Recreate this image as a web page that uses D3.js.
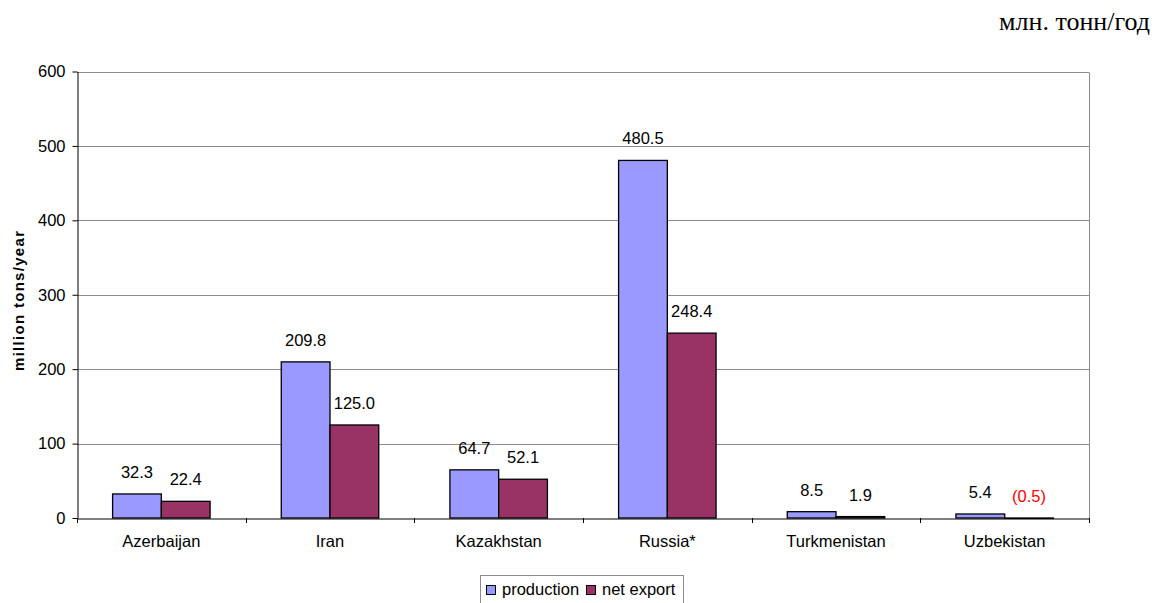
<!DOCTYPE html>
<html><head><meta charset="utf-8">
<script src="https://cdn.jsdelivr.net/npm/d3@7"></script>
<style>
html,body{margin:0;padding:0;background:#fff;}
svg{display:block;}
text{font-family:"Liberation Sans",Arial,sans-serif;}
</style></head>
<body>
<svg id="chart" width="1155" height="603"></svg>
<script>
const categories = ["Azerbaijan","Iran","Kazakhstan","Russia*","Turkmenistan","Uzbekistan"];
const seriesNames = ["production","net export"];
const production = [32.3, 209.8, 64.7, 480.5, 8.5, 5.4];
const netExport = [22.4, 125.0, 52.1, 248.4, 1.9, -0.5];
const yTicks = [0,100,200,300,400,500,600];
const colors = ["#9999FF","#993366"];
const unitNote = "млн. тонн/год";
const yLabel = "million tons/year";

(function(){
const svg = d3.select("#chart");
const pLeft = 77, pRight = 1089, pTop = 71.5, pBottom = 518;
const FS = 16.5;

const x0 = d3.scaleBand().domain(categories).range([pLeft, pRight]).padding(0);
const x1 = d3.scaleBand().domain(seriesNames).range([0, x0.bandwidth()]).paddingInner(0).paddingOuter(0.73);
const y = d3.scaleLinear().domain([0,600]).range([pBottom, pTop]);
const color = d3.scaleOrdinal().domain(seriesNames).range(colors);

// unit note
svg.append("text").attr("x",1150).attr("y",29.5).attr("text-anchor","end")
  .style("font-family",'"Liberation Serif","Times New Roman",serif').style("font-size","26px")
  .attr("fill","#000").text(unitNote);

// grid
svg.append("g").selectAll("line").data(yTicks.filter(d=>d>0)).join("line")
  .attr("x1",pLeft).attr("x2",pRight).attr("y1",d=>Math.round(y(d))+0.5).attr("y2",d=>Math.round(y(d))+0.5)
  .attr("stroke","#8c8c8c").attr("stroke-width",1);
// right border
svg.append("line").attr("x1",pRight+0.5).attr("x2",pRight+0.5).attr("y1",Math.round(y(600))+0.5).attr("y2",pBottom)
  .attr("stroke","#8c8c8c");

// bars
const data = categories.map((c,i)=>({cat:c, vals:[{s:seriesNames[0],v:production[i]},{s:seriesNames[1],v:netExport[i]}]}));
const groups = svg.append("g").selectAll("g").data(data).join("g")
  .attr("transform",d=>`translate(${x0(d.cat)},0)`);
groups.selectAll("rect").data(d=>d.vals).join("rect")
  .attr("x",d=>x1(d.s)).attr("width",x1.bandwidth())
  .attr("y",d=>y(Math.max(0,d.v))).attr("height",d=>Math.abs(y(d.v)-y(0)))
  .attr("fill",d=>color(d.s)).attr("stroke","#000").attr("stroke-width",1.3);
groups.selectAll("text").data(d=>d.vals).join("text")
  .attr("x",d=>x1(d.s)+x1.bandwidth()/2).attr("y",d=>y(Math.max(0,d.v))-16)
  .attr("text-anchor","middle").style("font-size",FS+"px")
  .attr("fill",d=>d.v<0?"#FF0000":"#000")
  .text(d=>d.v<0?`(${Math.abs(d.v).toFixed(1)})`:d.v.toFixed(1));

// y axis
const yAxis = svg.append("g").attr("transform",`translate(${pLeft+0.5},0)`)
  .call(d3.axisLeft(y).tickValues(yTicks).tickSize(5).tickPadding(7).tickSizeOuter(0));
yAxis.selectAll("text").style("font-family",'"Liberation Sans",Arial,sans-serif').style("font-size",FS+"px").attr("fill","#000");
yAxis.select(".domain").attr("stroke","#000");
yAxis.selectAll(".tick line").attr("stroke","#000");

// x axis
const xAxis = svg.append("g").attr("transform",`translate(0,${pBottom+0.5})`)
  .call(d3.axisBottom(x0).tickSize(0).tickPadding(17).tickSizeOuter(0));
xAxis.selectAll("text").style("font-family",'"Liberation Sans",Arial,sans-serif').style("font-size",FS+"px").attr("fill","#000");
xAxis.select(".domain").attr("stroke","#000");
const bounds = categories.map(c=>x0(c)).concat([pRight]);
svg.append("g").selectAll("line").data(bounds).join("line")
  .attr("x1",d=>Math.round(d)+0.5).attr("x2",d=>Math.round(d)+0.5).attr("y1",pBottom).attr("y2",pBottom+5)
  .attr("stroke","#000");

// y label
svg.append("text").attr("transform",`translate(23.5,301) rotate(-90)`).attr("text-anchor","middle")
  .style("font-size","15px").style("font-weight","bold").attr("textLength",140).attr("lengthAdjust","spacing")
  .attr("fill","#000").text(yLabel);

// legend
const lg = svg.append("g");
lg.append("rect").attr("x",480.5).attr("y",575.5).attr("width",203).attr("height",30)
  .attr("fill","#fff").attr("stroke","#8c8c8c");
const litems = [{s:seriesNames[0],x:486.5,tx:502},{s:seriesNames[1],x:586.5,tx:602}];
lg.selectAll("rect.sw").data(litems).join("rect").attr("class","sw")
  .attr("x",d=>d.x).attr("y",585.5).attr("width",9).attr("height",9)
  .attr("fill",d=>color(d.s)).attr("stroke","#000").attr("stroke-width",1);
lg.selectAll("text").data(litems).join("text")
  .attr("x",d=>d.tx).attr("y",595).style("font-size",FS+"px").attr("fill","#000").text(d=>d.s);
})();
</script>
</body></html>
